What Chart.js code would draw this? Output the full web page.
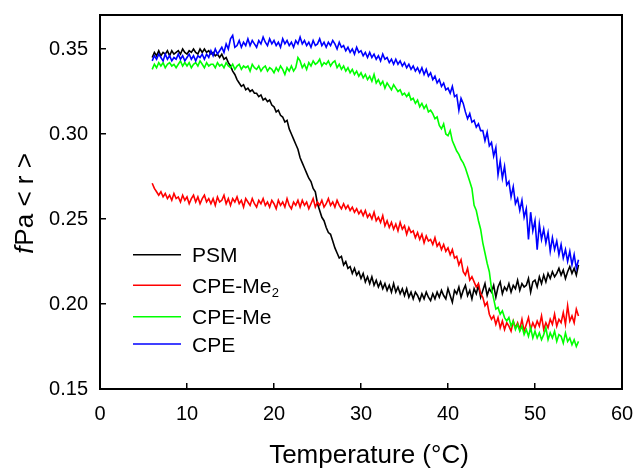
<!DOCTYPE html>
<html>
<head>
<meta charset="utf-8">
<script src="https://cdn.jsdelivr.net/npm/chart.js@4.4.1/dist/chart.umd.min.js"></script>
<style>
html,body{margin:0;padding:0;background:#fff;}
#wrap{width:637px;height:468px;position:relative;}
</style>
</head>
<body>
<div id="wrap"><canvas id="c" width="637" height="468"></canvas></div>
<script>
// ---- data ----
const temps = [6,6.25,6.5,6.75,7,7.25,7.5,7.75,8,8.25,8.5,8.75,9,9.25,9.5,9.75,10,10.25,10.5,10.75,11,11.25,11.5,11.75,12,12.25,12.5,12.75,13,13.25,13.5,13.75,14,14.25,14.5,14.75,15,15.25,15.5,15.75,16,16.25,16.5,16.75,17,17.25,17.5,17.75,18,18.25,18.5,18.75,19,19.25,19.5,19.75,20,20.25,20.5,20.75,21,21.25,21.5,21.75,22,22.25,22.5,22.75,23,23.25,23.5,23.75,24,24.25,24.5,24.75,25,25.25,25.5,25.75,26,26.25,26.5,26.75,27,27.25,27.5,27.75,28,28.25,28.5,28.75,29,29.25,29.5,29.75,30,30.25,30.5,30.75,31,31.25,31.5,31.75,32,32.25,32.5,32.75,33,33.25,33.5,33.75,34,34.25,34.5,34.75,35,35.25,35.5,35.75,36,36.25,36.5,36.75,37,37.25,37.5,37.75,38,38.25,38.5,38.75,39,39.25,39.5,39.75,40,40.25,40.5,40.75,41,41.25,41.5,41.75,42,42.25,42.5,42.75,43,43.25,43.5,43.75,44,44.25,44.5,44.75,45,45.25,45.5,45.75,46,46.25,46.5,46.75,47,47.25,47.5,47.75,48,48.25,48.5,48.75,49,49.25,49.5,49.75,50,50.25,50.5,50.75,51,51.25,51.5,51.75,52,52.25,52.5,52.75,53,53.25,53.5,53.75,54,54.25,54.5,54.75,55];

const psm = [
.345,.348,.346,.349, .346,.348,.347,.349, .346,.349,.347,.348, .349,.347,.350,.348,
.347,.349,.348,.350, .348,.347,.350,.348, .350,.348,.349,.347, .348,.346,.347,.345,
.347,.344,.345,.342, .340,.337,.335,.332, .330,.328,.329,.326, .327,.325,.326,.324,
.324,.322,.323,.320, .321,.319,.320,.317, .316,.313,.314,.311, .310,.307,.308,.303,
.300,.297,.294,.291, .286,.283,.280,.277, .274,.272,.268,.266, .259,.255,.251,.249,
.245,.242,.241,.237, .233,.230,.227,.228, .223,.225,.221,.222, .218,.221,.217,.219,
.215,.218,.213,.216, .212,.216,.211,.214, .210,.213,.209,.212, .208,.211,.207,.212,
.207,.210,.206,.209, .205,.209,.204,.207, .203,.207,.205,.202, .206,.203,.207,.204,
.202,.206,.203,.207, .204,.208,.205,.203, .209,.205,.201,.208, .206,.210,.204,.208,
.211,.205,.208,.203, .209,.206,.211,.204, .208,.212,.205,.209, .207,.211,.204,.210,
.213,.206,.210,.208, .212,.207,.211,.209, .214,.208,.212,.210, .211,.215,.207,.213,
.214,.210,.216,.212, .217,.213,.218,.215, .219,.216,.218,.221, .217,.220,.215,.219,
.222,.218,.221,.217, .223];

const cpeMe2 = [
.271,.268,.266,.264, .266,.263,.265,.262, .264,.261,.265,.262, .263,.260,.264,.261,
.263,.259,.262,.264, .260,.263,.259,.262, .264,.260,.262,.259, .262,.258,.263,.260,
.261,.264,.259,.262, .258,.262,.260,.263, .259,.261,.257,.262, .260,.258,.262,.259,
.257,.261,.259,.262, .258,.260,.257,.261, .259,.256,.261,.258, .260,.257,.262,.258,
.256,.260,.258,.261, .257,.261,.258,.260, .256,.259,.262,.257, .260,.258,.261,.257,
.259,.262,.258,.260, .257,.261,.258,.256, .259,.256,.258,.255, .257,.254,.256,.253,
.255,.252,.255,.251, .253,.250,.254,.249, .251,.248,.252,.246, .249,.245,.248,.244,
.247,.243,.248,.244, .246,.241,.245,.242, .243,.239,.242,.238, .241,.236,.240,.237,
.238,.235,.239,.234, .236,.232,.235,.231, .233,.229,.232,.227, .228,.223,.226,.219,
.217,.221,.214,.216, .213,.210,.212,.206, .204,.199,.201,.194, .191,.193,.188,.192,
.186,.190,.185,.189, .187,.184,.190,.186, .189,.185,.191,.184, .188,.192,.185,.189,
.186,.190,.187,.193, .185,.189,.186,.191, .188,.194,.187,.191, .189,.195,.188,.199,
.190,.193,.189,.197, .193];

const cpeMe = [
.338,.341,.339,.342, .340,.342,.339,.341, .342,.340,.341,.339, .341,.343,.340,.342,
.340,.342,.339,.341, .342,.340,.343,.341, .339,.342,.340,.341, .341,.339,.342,.340,
.341,.339,.342,.340, .339,.341,.338,.340, .341,.338,.340,.339, .340,.337,.341,.339,
.338,.340,.337,.339, .340,.337,.339,.338, .336,.339,.337,.340, .338,.335,.339,.337,
.340,.337,.339,.345, .343,.339,.341,.338, .342,.340,.343,.341, .342,.344,.340,.342,
.341,.343,.340,.342, .343,.339,.341,.338, .340,.337,.339,.336, .338,.335,.337,.334,
.336,.333,.335,.332, .334,.331,.335,.330, .332,.329,.331,.327, .330,.328,.326,.329,
.327,.325,.326,.323, .324,.322,.324,.320, .321,.318,.320,.316, .318,.315,.317,.313,
.314,.312,.309,.310, .305,.303,.306,.300, .299,.302,.296,.293, .290,.288,.285,.283,
.280,.276,.272,.268, .258,.255,.249,.244, .236,.230,.224,.219, .209,.203,.197,.198,
.194,.196,.192,.190, .192,.187,.190,.185, .188,.184,.187,.182, .185,.181,.186,.180,
.184,.180,.183,.179, .182,.186,.179,.183, .180,.184,.178,.182, .181,.177,.183,.178,
.180,.176,.179,.175, .178];

const cpe = [
.343,.346,.344,.347, .345,.343,.347,.344, .346,.343,.345,.344, .347,.344,.346,.343,
.345,.347,.344,.346, .343,.346,.345,.347, .344,.347,.345,.349, .346,.350,.347,.349,
.351,.348,.353,.350, .356,.358,.351,.352, .355,.351,.354,.352, .356,.352,.355,.353,
.351,.355,.353,.357, .354,.352,.356,.353, .355,.352,.354,.351, .356,.353,.355,.352,
.354,.351,.355,.353, .357,.353,.355,.352, .354,.351,.355,.352, .353,.356,.352,.354,
.351,.354,.352,.355, .353,.350,.354,.351, .352,.349,.351,.348, .350,.347,.351,.348,
.349,.346,.348,.345, .348,.345,.347,.344, .346,.343,.347,.344, .345,.342,.344,.341,
.344,.341,.343,.340, .342,.339,.341,.338, .340,.337,.339,.336, .339,.335,.338,.334,
.336,.332,.334,.330, .332,.328,.330,.326, .327,.324,.328,.322, .323,.314,.321,.318,
.313,.309,.312,.307, .308,.304,.306,.302, .302,.296,.301,.293, .295,.287,.292,.276,
.284,.274,.281,.270, .272,.263,.269,.259, .262,.255,.261,.251, .256,.238,.254,.243,
.249,.232,.247,.238, .244,.236,.242,.231, .239,.232,.237,.229, .235,.227,.232,.225,
.231,.223,.229,.221, .226];

const seriesLabels = ['PSM', 'CPE-Me\u2082', 'CPE-Me', 'CPE'];
const seriesColors = ['#000000', '#ff0000', '#00ff00', '#0000ff'];
const seriesValues = [psm, cpeMe2, cpeMe, cpe];

const xTicks = [0, 10, 20, 30, 40, 50, 60];
const yTicks = [0.15, 0.20, 0.25, 0.30, 0.35];
const xTitle = 'Temperature (\u00B0C)';
const yTitleItalic = 'f';
const yTitleRest = 'Pa < r >';

// ---- chart ----
const FONT = '"Liberation Sans", Arial, Helvetica, sans-serif';

const datasets = seriesValues.map((vals, i) => ({
  label: seriesLabels[i],
  data: vals.map((v, k) => ({x: temps[k], y: v})),
  borderColor: seriesColors[i],
  backgroundColor: seriesColors[i],
  borderWidth: 1.6,
  pointRadius: 0,
  tension: 0,
  fill: false,
  order: seriesValues.length - i
}));

function zeroPad(scale) {
  scale.paddingTop = 0; scale.paddingBottom = 0;
  scale.paddingLeft = 0; scale.paddingRight = 0;
}

const framePlugin = {
  id: 'frame',
  afterDatasetsDraw(chart) {
    const {ctx, chartArea: a} = chart;
    ctx.save();
    ctx.strokeStyle = '#000';
    ctx.lineWidth = 2;
    ctx.strokeRect(a.left, a.top, a.right - a.left, a.bottom - a.top);
    ctx.restore();
  }
};

const titlesPlugin = {
  id: 'axisTitles',
  afterDraw(chart) {
    const {ctx, chartArea: a} = chart;
    const fs = 26;
    const italic = 'italic ' + fs + 'px ' + FONT;
    const normal = fs + 'px ' + FONT;
    ctx.save();
    ctx.fillStyle = '#000';
    ctx.textBaseline = 'alphabetic';
    // x title
    ctx.font = normal;
    ctx.textAlign = 'center';
    ctx.fillText(xTitle, (a.left + a.right) / 2 + 8, 463);
    // y title (italic f)
    ctx.textAlign = 'left';
    ctx.font = italic;
    const w1 = ctx.measureText(yTitleItalic).width;
    ctx.font = normal;
    const w2 = ctx.measureText(yTitleRest).width;
    const total = w1 + w2;
    ctx.translate(33, (a.top + a.bottom) / 2 + 2);
    ctx.rotate(-Math.PI / 2);
    ctx.font = italic;
    ctx.fillText(yTitleItalic, -total / 2, 0);
    ctx.font = normal;
    ctx.fillText(yTitleRest, -total / 2 + w1 + 1, 0);
    ctx.restore();
  }
};

const legendPlugin = {
  id: 'innerLegend',
  afterDraw(chart) {
    const {ctx} = chart;
    const rowsY = [254.7, 285.3, 316.7, 344];
    ctx.save();
    chart.data.datasets.forEach((ds, i) => {
      const y = rowsY[i];
      ctx.strokeStyle = ds.borderColor;
      ctx.lineWidth = 1.5;
      ctx.beginPath();
      ctx.moveTo(133, y);
      ctx.lineTo(181, y);
      ctx.stroke();
      ctx.fillStyle = '#000';
      ctx.textBaseline = 'alphabetic';
      ctx.textAlign = 'left';
      ctx.font = '21px ' + FONT;
      let label = ds.label;
      let sub = '';
      if (label.endsWith('\u2082')) { sub = '2'; label = label.slice(0, -1); }
      const baseY = y + 7.7;
      ctx.fillText(label, 192, baseY);
      if (sub) {
        const w = ctx.measureText(label).width;
        ctx.font = '13px ' + FONT;
        ctx.fillText(sub, 192 + w + 0.5, baseY + 4);
      }
    });
    ctx.restore();
  }
};

new Chart(document.getElementById('c'), {
  type: 'line',
  data: {datasets},
  options: {
    responsive: false,
    animation: false,
    events: [],
    layout: {padding: {top: 15, right: 15, left: 0, bottom: 0}},
    plugins: {legend: {display: false}, tooltip: {enabled: false}, title: {display: false}},
    scales: {
      x: {
        type: 'linear',
        min: 0, max: 60,
        afterBuildTicks(scale) { scale.ticks = xTicks.map(v => ({value: v})); },
        afterFit(scale) { scale.height = 79; zeroPad(scale); },
        border: {display: false},
        grid: {drawOnChartArea: false, drawTicks: true, tickLength: -6, color: '#000', lineWidth: 1.5},
        ticks: {color: '#000', font: {family: FONT, size: 20}, padding: 19, maxRotation: 0, callback: v => String(v)},
        title: {display: false, text: xTitle}
      },
      y: {
        type: 'linear',
        min: 0.15, max: 0.37,
        afterBuildTicks(scale) { scale.ticks = yTicks.map(v => ({value: v})); },
        afterFit(scale) { scale.width = 100; zeroPad(scale); },
        border: {display: false},
        grid: {drawOnChartArea: false, drawTicks: true, tickLength: -6, color: '#000', lineWidth: 1.5},
        ticks: {color: '#000', font: {family: FONT, size: 20}, padding: 18, callback: v => v.toFixed(2)},
        title: {display: false, text: yTitleItalic + yTitleRest}
      }
    }
  },
  plugins: [framePlugin, titlesPlugin, legendPlugin]
});
</script>
</body>
</html>
